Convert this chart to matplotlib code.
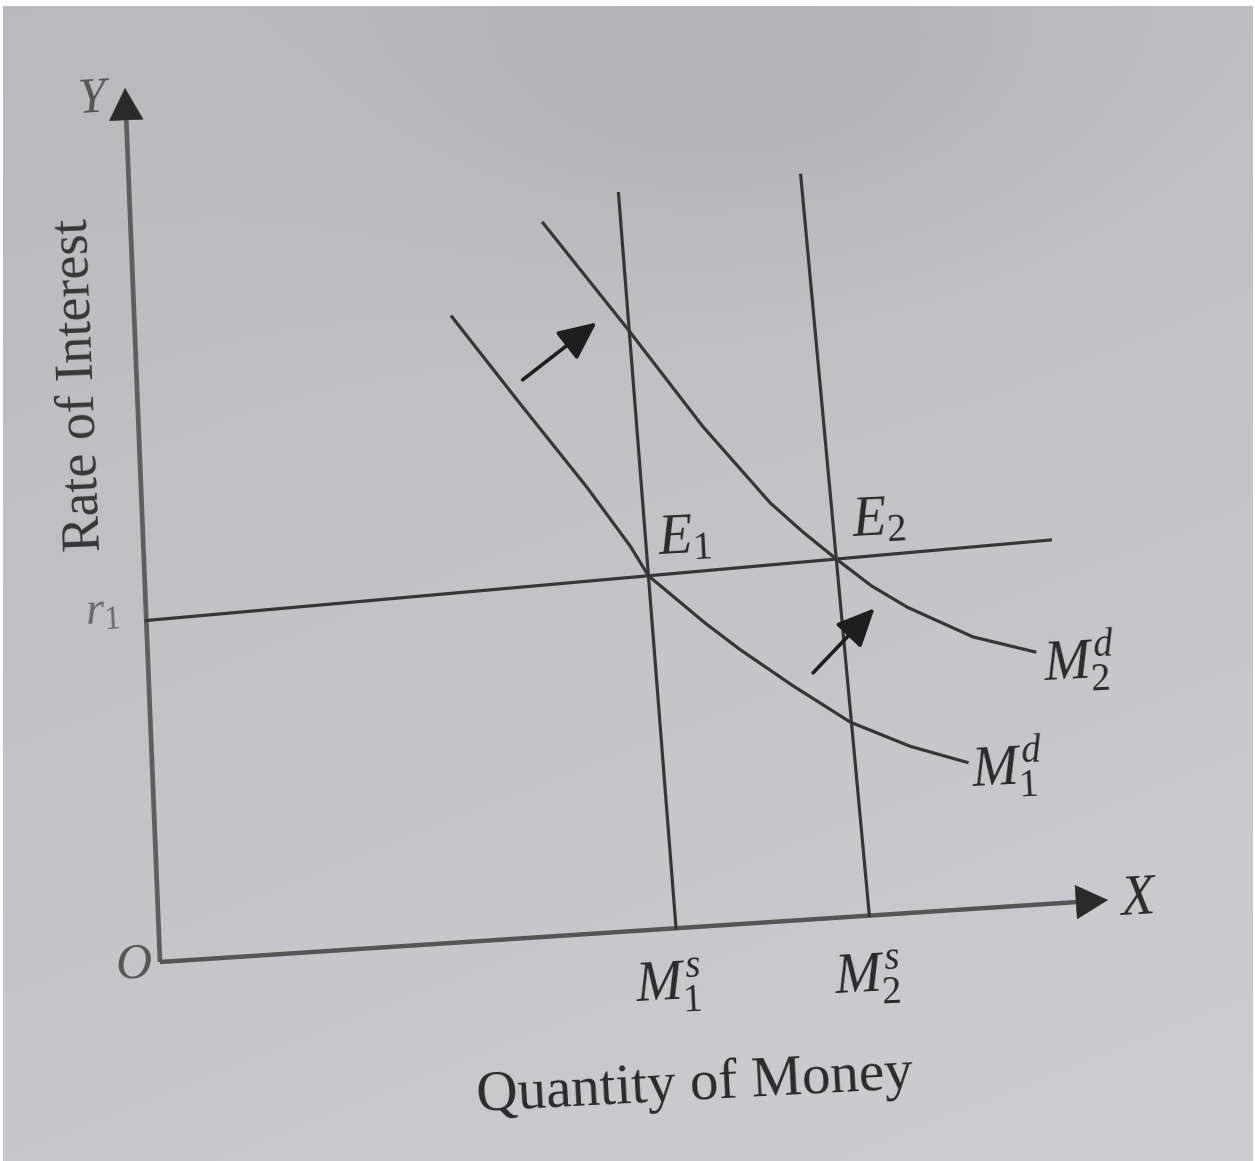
import numpy as np
import matplotlib
matplotlib.use("Agg")
import matplotlib.pyplot as plt
from matplotlib.transforms import Transform

# ---- data (quantity of money on x, rate of interest on y) ----
money_supply = {"M1s": 5.6, "M2s": 7.6}
supply_top = {"M1s": 8.05, "M2s": 8.02}
r1 = 3.75
r1_line_end = 9.82

md1_q = [3.65, 4.34, 5.01, 5.43, 5.60, 5.87, 6.17, 6.51, 7.03, 7.59, 8.18, 8.74]
md1_r = [6.85, 5.79, 4.78, 4.09, 3.75, 3.48, 3.18, 2.87, 2.44, 2.01, 1.71, 1.50]

md2_q = [4.74, 5.59, 6.31, 6.96, 7.27, 7.60, 7.94, 8.29, 8.93, 9.54]
md2_r = [7.81, 6.49, 5.33, 4.42, 4.08, 3.75, 3.43, 3.17, 2.80, 2.59]

shift_arrows = [((4.39, 6.05), (5.25, 6.61)),
                ((7.25, 2.56), (7.95, 3.19))]

axis_max = 10.0

# ---- fonts ----
plt.rcParams["font.family"] = ["Liberation Serif", "DejaVu Serif"]
plt.rcParams["mathtext.fontset"] = "custom"
plt.rcParams["mathtext.rm"] = "Liberation Serif"
plt.rcParams["mathtext.it"] = "Liberation Serif:italic"
plt.rcParams["mathtext.bf"] = "Liberation Serif:bold"


class Perspective(Transform):
    """Projective mapping from diagram units onto the page."""
    input_dims = output_dims = 2
    is_separable = False
    has_inverse = False

    def __init__(self, H):
        super().__init__()
        self.H = H

    def transform_non_affine(self, values):
        v = np.asarray(values, float).reshape(-1, 2)
        p = np.c_[v, np.ones(len(v))] @ self.H.T
        return p[:, :2] / p[:, 2:]


def homography(src, dst):
    A, b = [], []
    for (x, y), (u, v) in zip(src, dst):
        A.append([x, y, 1, 0, 0, 0, -u * x, -u * y]); b.append(u)
        A.append([0, 0, 0, x, y, 1, -v * x, -v * y]); b.append(v)
    h = np.linalg.solve(np.array(A, float), np.array(b, float))
    return np.append(h, 1).reshape(3, 3)


W, Hgt = 1255, 1161
fig = plt.figure(figsize=(W / 100, Hgt / 100), dpi=100, facecolor="white")
ax = fig.add_axes([0, 0, 1, 1])
ax.set_xlim(0, W)
ax.set_ylim(Hgt, 0)
ax.axis("off")

# paper with soft uneven lighting
gy, gx = np.mgrid[0:1:200j, 0:1:200j]
shade = 186 + 14 * gy + 6 * gx - 10 * np.exp(-((gx - 0.6) ** 2 / 0.08 + (gy - 0.05) ** 2 / 0.03))
shade = np.clip(shade, 0, 255) / 255.0
paper = np.clip(np.dstack([shade, shade, shade * 1.01 + 0.005]), 0, 1)
ax.imshow(paper, extent=(3, W - 2, Hgt, 6), aspect="auto", zorder=0, interpolation="bilinear")

# frame of the diagram on the page
frame_units = [(0, 0), (axis_max, 0), (0, axis_max), (axis_max, axis_max)]
frame_page = [(160, 962), (1108, 900), (125, 88), (1006, -23)]
tr = Perspective(homography(frame_units, frame_page)) + ax.transData

ink = "#363636"
axis_ink = "#5e5e5e"
lw = 2.3

# axes with arrow heads
ax.plot([0, 0], [0, axis_max - 0.25], color=axis_ink, lw=3.4, transform=tr, solid_capstyle="butt", zorder=2)
ax.plot([0, axis_max - 0.25], [0, 0], color="#555555", lw=3.2, transform=tr, solid_capstyle="butt", zorder=2)
head = dict(arrowstyle="-|>,head_length=1.4,head_width=0.75", color="#2a2a2a",
            lw=0.5, mutation_scale=16, shrinkA=0, shrinkB=0)
ax.annotate("", xy=(0, axis_max), xytext=(0, axis_max - 0.3), xycoords=tr, textcoords=tr, arrowprops=head)
ax.annotate("", xy=(axis_max, 0), xytext=(axis_max - 0.3, 0), xycoords=tr, textcoords=tr, arrowprops=head)

# interest-rate line
ax.plot([0, r1_line_end], [r1, r1], color=ink, lw=lw, transform=tr, zorder=3)

# money supply lines
for key in ("M1s", "M2s"):
    q = money_supply[key]
    ax.plot([q, q], [0, supply_top[key]], color=ink, lw=lw, transform=tr, zorder=3)

# money demand curves
ax.plot(md1_q, md1_r, color=ink, lw=lw, transform=tr, zorder=3, solid_joinstyle="round")
ax.plot(md2_q, md2_r, color=ink, lw=lw, transform=tr, zorder=3, solid_joinstyle="round")

# shift arrows
for tail, tip in shift_arrows:
    ax.annotate("", xy=tip, xytext=tail, xycoords=tr, textcoords=tr,
                arrowprops=dict(arrowstyle="-|>,head_length=1.3,head_width=0.6",
                                color="#1e1e1e", lw=2.6, mutation_scale=18,
                                shrinkA=0, shrinkB=0))

# labels
tc = "#2a2a2a"
big = 40
ax.text(-0.37, 9.90, "$Y$", transform=tr, fontsize=36, color="#555555", ha="center", va="center", rotation=3)
ax.text(-0.50, 3.88, r"$r_{\mathrm{1}}$", transform=tr, fontsize=34, color="#6a6a6a", ha="center", va="center", rotation=3)
ax.text(-0.30, -0.02, "$O$", transform=tr, fontsize=36, color="#555555", ha="center", va="center", rotation=3)
ax.text(10.30, -0.02, "$X$", transform=tr, fontsize=40, color=tc, ha="center", va="center", rotation=3)
ax.text(6.02, 4.12, r"$E_{\mathrm{1}}$", transform=tr, fontsize=big, color=tc, ha="center", va="center", rotation=3)
ax.text(8.08, 4.12, r"$E_{\mathrm{2}}$", transform=tr, fontsize=big, color=tc, ha="center", va="center", rotation=3)
ax.text(9.98, 2.45, r"$M_{\mathrm{2}}^{d}$", transform=tr, fontsize=big, color=tc, ha="center", va="center", rotation=3)
ax.text(9.14, 1.42, r"$M_{\mathrm{1}}^{d}$", transform=tr, fontsize=big, color=tc, ha="center", va="center", rotation=3)
ax.text(5.48, -0.60, r"$M_{\mathrm{1}}^{s}$", transform=tr, fontsize=big, color=tc, ha="center", va="center", rotation=3)
ax.text(7.52, -0.64, r"$M_{\mathrm{2}}^{s}$", transform=tr, fontsize=big, color=tc, ha="center", va="center", rotation=3)
ax.text(5.67, -1.61, "Quantity of Money", transform=tr, fontsize=41, color=tc, ha="center", va="center", rotation=3)
ax.text(-0.67, 6.52, "Rate of Interest", transform=tr, fontsize=39, color="#363636", ha="center", va="center", rotation=92.3)

fig.savefig("out.png", dpi=100, facecolor="white")
